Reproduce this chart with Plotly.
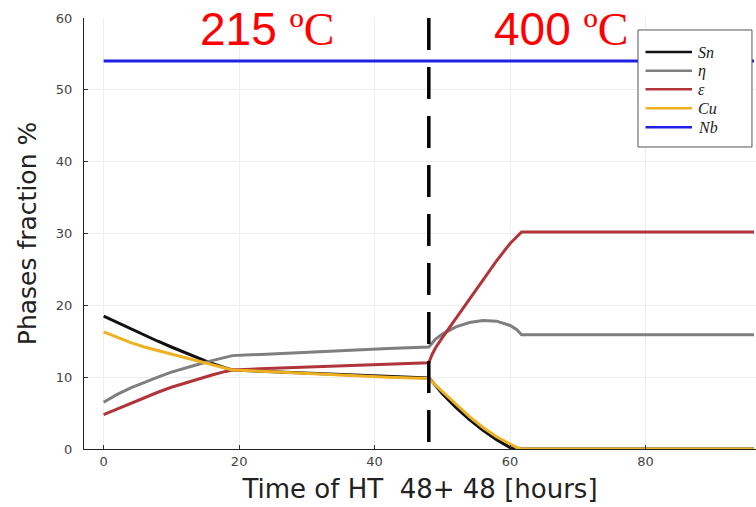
import plotly.graph_objects as go

# Heat-treatment time (hours): 48 h at 215 °C followed by 48 h at 400 °C
time = [0, 2, 4, 6, 8, 10, 12, 14, 16, 18, 19, 24, 30, 36, 42, 48,
        48.5, 49, 50, 52, 54, 56, 58, 60, 61, 61.7, 62, 70, 80, 96]

sn = [18.5, 17.6, 16.7, 15.8, 15.0, 14.2, 13.4, 12.6, 11.9, 11.3, 11.0, 10.8, 10.6, 10.4, 10.1, 9.9,
      9.4, 8.8, 7.7, 5.8, 4.1, 2.6, 1.3, 0.2, 0.0, 0.0, 0.0, 0.0, 0.0, 0.0]
eta = [6.5, 7.6, 8.5, 9.3, 10.0, 10.7, 11.3, 11.8, 12.3, 12.8, 13.0, 13.2, 13.5, 13.8, 14.0, 14.2,
       14.8, 15.3, 16.0, 17.0, 17.6, 17.9, 17.8, 17.2, 16.6, 15.9, 15.9, 15.9, 15.9, 15.9]
eps = [4.8, 5.6, 6.4, 7.2, 7.9, 8.6, 9.2, 9.8, 10.3, 10.8, 11.0, 11.2, 11.4, 11.6, 11.8, 12.0,
       13.2, 14.1, 15.5, 18.2, 20.9, 23.6, 26.2, 28.6, 29.5, 30.2, 30.2, 30.2, 30.2, 30.2]
cu = [16.3, 15.5, 14.8, 14.2, 13.7, 13.2, 12.7, 12.2, 11.7, 11.2, 11.0, 10.8, 10.5, 10.3, 10.0, 9.8,
      9.4, 8.9, 8.0, 6.2, 4.5, 3.0, 1.7, 0.7, 0.2, 0.0, 0.0, 0.0, 0.0, 0.0]
nb = [54.0] * len(time)

series_names = ["<i>Sn</i>", "<i>η</i>", "<i>ε</i>", "<i>Cu</i>", "<i>Nb</i>"]
series_values = [sn, eta, eps, cu, nb]
series_colors = ["#111111", "#7f7f7f", "#b0353a", "#eeb122", "#1f1fe6"]

switch_time = 48
stage_labels = ["215 <span style='font-family:Liberation Serif'>ºC</span>",
                "400 <span style='font-family:Liberation Serif'>ºC</span>"]
stage_label_x = [13.9, 57.3]

x_ticks = [0, 20, 40, 60, 80]
y_ticks = [0, 10, 20, 30, 40, 50, 60]

fig = go.Figure()
for name, vals, col in zip(series_names, series_values, series_colors):
    fig.add_trace(go.Scatter(x=time, y=vals, mode="lines", name=name, showlegend=False,
                             line=dict(color=col, width=3)))

# boundary between the two temperature stages (dash pattern starts at the top)
fig.add_shape(type="line", x0=switch_time, x1=switch_time, y0=60, y1=0,
              xref="x", yref="y", line=dict(color="black", width=3.5, dash="32px,17px"))

for txt, xs in zip(stage_labels, stage_label_x):
    fig.add_annotation(x=xs, y=58.4, xref="x", yref="y", text=txt, showarrow=False,
                       xanchor="left", yanchor="middle",
                       font=dict(family="Liberation Sans", size=46, color="#ff0000"))

# compact legend box in the upper-right corner of the plotting area
box_x0, box_x1, box_y0, box_y1 = 0.8244, 0.994, 0.7007, 0.9722
sample_x0, sample_x1, label_x = 0.8356, 0.9048, 0.9122
row_y = [0.9211, 0.8777, 0.8346, 0.7905, 0.7464]
fig.add_shape(type="rect", xref="paper", yref="paper", x0=box_x0, x1=box_x1,
              y0=box_y0, y1=box_y1, fillcolor="white", layer="above",
              line=dict(color="#555555", width=1))
for name, col, ry in zip(series_names, series_colors, row_y):
    fig.add_shape(type="line", xref="paper", yref="paper", x0=sample_x0, x1=sample_x1,
                  y0=ry, y1=ry, layer="above", line=dict(color=col, width=2.5))
    fig.add_annotation(x=label_x, y=ry, xref="paper", yref="paper", text=name,
                       showarrow=False, xanchor="left", yanchor="middle", borderpad=0,
                       font=dict(family="Liberation Serif", size=16, color="#222222"))

fig.update_layout(
    width=756, height=507,
    margin=dict(l=84, r=0, t=18, b=58),
    paper_bgcolor="white", plot_bgcolor="white",
    font=dict(family="DejaVu Sans", color="#333333"),
    showlegend=False,
)
fig.update_xaxes(range=[-2.9, 96.3], tickvals=x_ticks, ticks="inside", ticklen=4,
                 tickcolor="#333333", showline=True, linecolor="#222222", linewidth=1,
                 showgrid=True, gridcolor="#eeeeee", gridwidth=1, zeroline=False,
                 tickfont=dict(size=13, color="#444444"),
                 title=dict(text="Time of HT\u00a0\u00a048+ 48 [hours]",
                            font=dict(size=26, color="#222222"), standoff=12))
fig.update_yaxes(range=[0, 60], tickvals=y_ticks, ticks="inside", ticklen=4,
                 tickcolor="#333333", showline=True, linecolor="#222222", linewidth=1,
                 showgrid=True, gridcolor="#eeeeee", gridwidth=1, zeroline=False,
                 tickfont=dict(size=13, color="#444444"), ticklabelstandoff=8,
                 title=dict(text="Phases fraction %", font=dict(size=25, color="#222222"),
                            standoff=12))

fig.write_html("out.html")
